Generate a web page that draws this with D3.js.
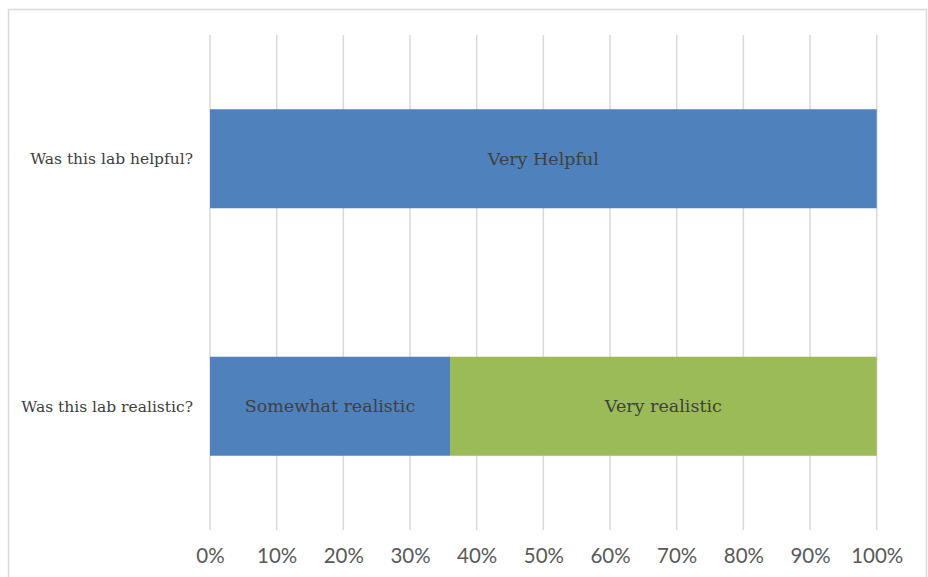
<!DOCTYPE html>
<html>
<head>
<meta charset="utf-8">
<script src="https://cdn.jsdelivr.net/npm/d3@7"></script>
<style>
  html, body { margin: 0; padding: 0; background: #fff; }
  svg { display: block; }
</style>
</head>
<body>
<div id="chart"></div>
<script>
// questions, top to bottom
const questions = ["Was this lab helpful?", "Was this lab realistic?"];
// first segment (blue) and second segment (green) of each bar, in %
const firstValues = [100, 36];
const secondValues = [0, 64];
const firstLabels = ["Very Helpful", "Somewhat realistic"];
const secondLabels = ["", "Very realistic"];
const ticks = [0, 10, 20, 30, 40, 50, 60, 70, 80, 90, 100];

const width = 928, height = 577;
const plot = {left: 210, right: 876.7, top: 35, bottom: 530};

const svg = d3.select("#chart").append("svg")
    .attr("width", width)
    .attr("height", height);

// cadre du graphique
svg.append("rect")
    .attr("x", 8.5).attr("y", 9.5)
    .attr("width", 918).attr("height", 600)
    .attr("fill", "none")
    .attr("stroke", "#d9d9d9")
    .attr("stroke-width", 1.5);

const x = d3.scaleLinear().domain([0, 100]).range([plot.left, plot.right]);
const y = d3.scaleBand().domain(questions)
    .range([plot.top, plot.bottom])
    .paddingInner(0.6)
    .paddingOuter(0.3);

// grille verticale
svg.append("g")
    .selectAll("line")
    .data(ticks)
    .enter().append("line")
    .attr("x1", d => x(d)).attr("x2", d => x(d))
    .attr("y1", plot.top).attr("y2", plot.bottom)
    .attr("stroke", "#d9d9d9")
    .attr("stroke-width", 1.5);

// axe des X (labels seulement)
const xAxis = svg.append("g")
    .attr("transform", `translate(0,${plot.bottom})`)
    .call(d3.axisBottom(x).tickValues(ticks).tickSize(0).tickPadding(18).tickFormat(d => d + "%"));
xAxis.select(".domain").remove();
xAxis.selectAll("text")
    .attr("fill", "#595959")
    .style("font-family", "Lato, 'Open Sans', sans-serif")
    .style("font-size", "20.5px");

// segments
const segments = [];
questions.forEach((q, i) => {
    segments.push({q: q, x0: 0, x1: firstValues[i], label: firstLabels[i], color: "#4f81bd"});
    segments.push({q: q, x0: firstValues[i], x1: firstValues[i] + secondValues[i], label: secondLabels[i], color: "#9bbb59"});
});
const segs = segments.filter(s => s.x1 > s.x0);

svg.append("g")
    .selectAll("rect")
    .data(segs)
    .enter().append("rect")
    .attr("x", d => x(d.x0))
    .attr("width", d => x(d.x1) - x(d.x0))
    .attr("y", d => y(d.q))
    .attr("height", y.bandwidth())
    .attr("fill", d => d.color);

svg.append("g")
    .selectAll("text")
    .data(segs)
    .enter().append("text")
    .attr("x", d => (x(d.x0) + x(d.x1)) / 2)
    .attr("y", d => y(d.q) + y.bandwidth() / 2)
    .attr("dy", "0.35em")
    .attr("text-anchor", "middle")
    .attr("fill", "#404040")
    .style("font-family", "'DejaVu Serif', serif")
    .style("font-size", "17.5px")
    .text(d => d.label);

// libellés des questions
svg.append("g")
    .selectAll("text")
    .data(questions)
    .enter().append("text")
    .attr("x", plot.left - 17)
    .attr("y", d => y(d) + y.bandwidth() / 2)
    .attr("dy", "0.35em")
    .attr("text-anchor", "end")
    .attr("fill", "#404040")
    .style("font-family", "'DejaVu Serif', serif")
    .style("font-size", "15.5px")
    .text(d => d);
</script>
</body>
</html>
